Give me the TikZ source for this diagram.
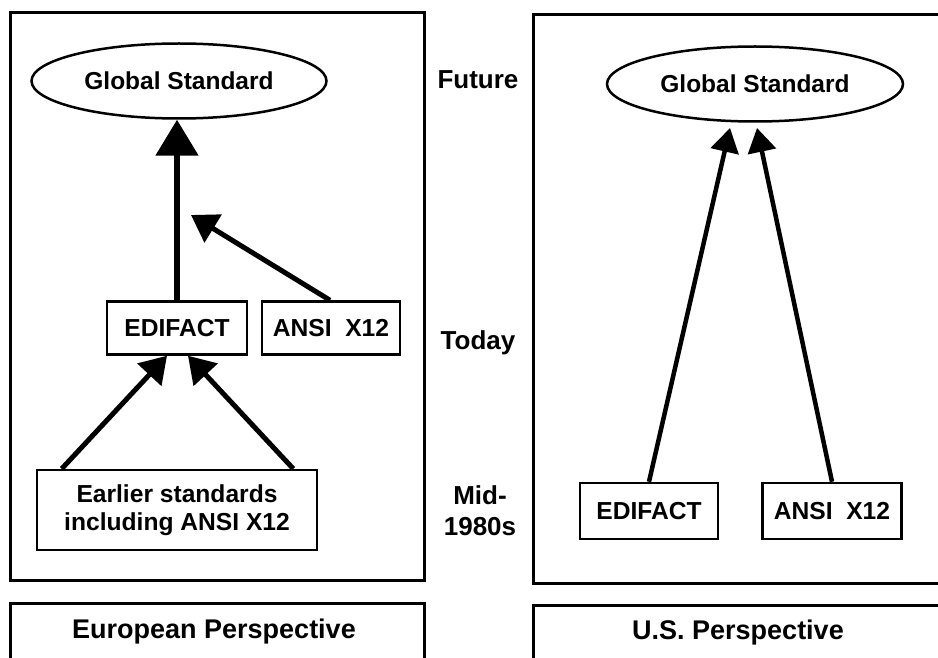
\documentclass[tikz,border=0pt]{standalone}
\usepackage{fontspec}
\setmainfont{Liberation Sans}
\usetikzlibrary{arrows.meta,shapes.geometric}
\begin{document}
\begin{tikzpicture}[x=1pt,y=-1pt,
  frame/.style={draw,line width=3pt},
  lbl/.style={font=\bfseries\fontsize{26}{31}\selectfont},
  plbl/.style={font=\bfseries\fontsize{27}{31}\selectfont},
  sbox/.style={draw,line width=2.5pt,inner sep=0pt,font=\bfseries\fontsize{24.6}{28.5}\selectfont},
  gs/.style={draw,ellipse,line width=2.5pt,inner sep=0pt,font=\bfseries\fontsize{24.5}{29}\selectfont},
  bigarrow/.style={line width=5.5pt,-{Triangle[length=36pt,width=42pt]}},
  midarrow/.style={line width=5pt,-{Triangle[length=26pt,width=32pt]}},
  thinarrow/.style={line width=4.5pt,-{Triangle[length=24pt,width=28pt]}}
]
\useasboundingbox (0,0) rectangle (938,658);
\fill[white] (0,0) rectangle (938,658);
\begin{scope}
\clip (0,0) rectangle (938,658);
% frames
\draw[frame] (10,13) rectangle (424,580);
\draw[frame] (10,603) rectangle (424,668);
\draw[frame] (533,15) rectangle (960,583);
\draw[frame] (533,605) rectangle (960,668);
\end{scope}
\node[plbl] (eup) at (214,632) {European Perspective};
\node[plbl] (usp) at (738,633) {U.S. Perspective};

% time labels
\node[lbl] (fut) at (478,80) {Future};
\node[lbl] (tod) at (478,343) {Today};
\node[lbl,align=center] (mid) at (480,511) {Mid-\\1980s};

% left side
\node[gs,minimum width=295pt,minimum height=75pt] (gsL) at (179,81) {Global Standard};
\node[sbox,minimum width=140pt,minimum height=53pt] (edL) at (177,328) {EDIFACT};
\node[sbox,minimum width=138pt,minimum height=53pt] (anL) at (331,328) {ANSI\ \ X12};
\node[sbox,minimum width=280pt,minimum height=80pt,align=center] (eaL) at (177,510) {Earlier standards\\including ANSI X12};
\coordinate (mergeL) at (191,215);

\draw[bigarrow] (edL.north) -- (edL.north |- gsL.south);
\draw[midarrow] ([xshift=-1pt]anL.north) -- (mergeL);
\draw[midarrow] ([xshift=26pt]eaL.north west) -- ([xshift=-10pt]edL.south);
\draw[midarrow] ([xshift=-25pt]eaL.north east) -- ([xshift=11pt]edL.south);

% right side
\node[gs,minimum width=296pt,minimum height=75pt] (gsR) at (755,84) {Global Standard};
\node[sbox,minimum width=138pt,minimum height=56pt] (edR) at (649,511) {EDIFACT};
\node[sbox,minimum width=139pt,minimum height=56pt] (anR) at (832,511) {ANSI\ \ X12};
\coordinate (tipA) at (730,128);
\coordinate (tipB) at (757,128);
\draw[thinarrow] (edR.north) -- (tipA);
\draw[thinarrow] (anR.north) -- (tipB);
\end{tikzpicture}
\end{document}
